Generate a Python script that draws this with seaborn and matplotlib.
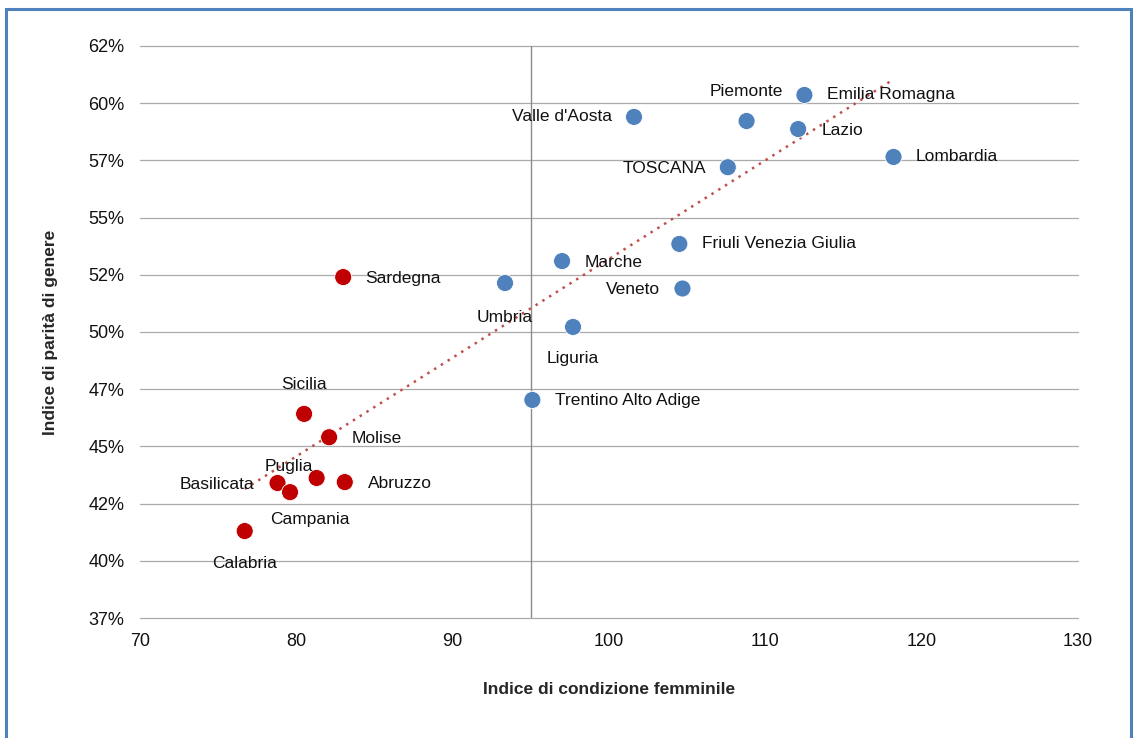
import numpy as np
import pandas as pd
import matplotlib
matplotlib.use("Agg")
import matplotlib.pyplot as plt
import seaborn as sns
from matplotlib.patches import Rectangle
from matplotlib.ticker import FuncFormatter

# ==========================
# DATA
# ==========================

regioni = [
    "Emilia Romagna", "Piemonte", "Valle d'Aosta", "Lazio", "Lombardia",
    "TOSCANA", "Friuli Venezia Giulia", "Marche", "Veneto", "Umbria",
    "Liguria", "Trentino Alto Adige",
    "Sardegna", "Sicilia", "Molise", "Puglia", "Abruzzo", "Basilicata",
    "Campania", "Calabria",
]

condizione = [
    112.5, 108.8, 101.6, 112.1, 118.2,
    107.6, 104.5, 97.0, 104.7, 93.35,
    97.7, 95.1,
    83.0, 80.5, 82.1, 81.3, 83.1, 78.8,
    79.6, 76.7,
]

parita = [
    0.6036, 0.5922, 0.5940, 0.5887, 0.5765,
    0.5720, 0.5385, 0.5310, 0.5190, 0.5214,
    0.5022, 0.4703,
    0.5240, 0.4642, 0.4540, 0.4362, 0.4344, 0.4340,
    0.4300, 0.4130,
]

area = ["Centro-Nord"] * 12 + ["Sud"] * 8

# label offsets (pixels) and alignment
label_pos = {
    "Emilia Romagna": (23, 0, "left"),
    "Piemonte": (0, 30, "center"),
    "Valle d'Aosta": (-22, 0, "right"),
    "Lazio": (23, -1, "left"),
    "Lombardia": (22, 0, "left"),
    "TOSCANA": (-22, -1, "right"),
    "Friuli Venezia Giulia": (23, 0, "left"),
    "Marche": (23, -1, "left"),
    "Veneto": (-22, -1, "right"),
    "Umbria": (0, -34, "center"),
    "Liguria": (0, -32, "center"),
    "Trentino Alto Adige": (23, -1, "left"),
    "Sardegna": (22, -1, "left"),
    "Sicilia": (0, 29, "center"),
    "Molise": (23, -1, "left"),
    "Puglia": (-28, 11, "center"),
    "Abruzzo": (23, -1, "left"),
    "Basilicata": (-23, -1, "right"),
    "Campania": (20, -27, "center"),
    "Calabria": (0, -32, "center"),
}

df = pd.DataFrame({
    "regione": regioni,
    "condizione": condizione,
    "parita": parita,
    "area": area,
})

# ==========================
# PLOT
# ==========================

sns.set_style("white")
plt.rcParams["font.family"] = ["Liberation Sans", "DejaVu Sans"]

fig = plt.figure(figsize=(11.35, 7.38), dpi=100)
ax = fig.add_axes([0.1233, 0.1626, 0.8265, 0.7751])

ax.set_xlim(70, 130)
ax.set_ylim(0.375, 0.625)
ax.set_yticks(np.arange(0.375, 0.6251, 0.025))
ax.set_xticks(np.arange(70, 131, 10))
ax.yaxis.set_major_formatter(FuncFormatter(lambda v, p: f"{int(v * 100 + 1e-9)}%"))

ax.grid(axis="y", color="#AAAAAA", linewidth=0.9)
for gl in ax.get_ygridlines():
    gl.set_clip_on(False)
ax.set_axisbelow(True)
ax.axvline(95, color="#8C8C8C", linewidth=1.0, zorder=1)

for s in ax.spines.values():
    s.set_visible(False)

sns.regplot(
    data=df, x="condizione", y="parita", scatter=False, ci=None, ax=ax,
    line_kws={"color": "#C0504D", "linestyle": (0, (1, 2.2)), "linewidth": 1.8, "zorder": 2},
)

sns.scatterplot(
    data=df, x="condizione", y="parita", hue="area",
    palette={"Centro-Nord": "#4F81BD", "Sud": "#C00000"},
    s=150, edgecolor="white", linewidth=0.6, legend=False, ax=ax, zorder=3,
)

for _, r in df.iterrows():
    dx, dy, ha = label_pos[r["regione"]]
    ax.annotate(
        r["regione"], (r["condizione"], r["parita"]),
        xytext=(dx, dy), textcoords="offset pixels",
        ha=ha, va="center", fontsize=12.5, color="#111111", zorder=4,
    )

ax.tick_params(axis="both", length=0, labelsize=13, pad=11, colors="#111111")
ax.set_xlabel("Indice di condizione femminile", fontsize=12.5, fontweight="bold", labelpad=23)
ax.set_ylabel("Indice di parità di genere", fontsize=12.5, fontweight="bold", labelpad=22)

fig.patches.append(Rectangle(
    (6 / 1135, -0.01), 1125 / 1135, 1 - 9 / 738 + 0.01,
    transform=fig.transFigure, fill=False, edgecolor="#4F81BD", linewidth=2.2,
))

fig.savefig("out.png", dpi=100)
